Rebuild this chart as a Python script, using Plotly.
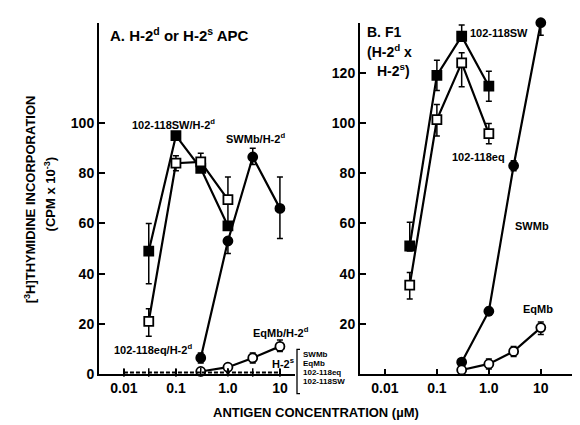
import plotly.graph_objects as go

# Panel A: H-2d or H-2s APC
a_sw_x = [0.03, 0.1, 0.3, 1.0]
a_sw_y = [49, 95, 82, 59]
a_sw_up = [11, 1, 1, 0]
a_sw_dn = [13, 1, 1, 0]

a_eq_x = [0.03, 0.1, 0.3, 1.0]
a_eq_y = [21, 84, 84.5, 69.5]
a_eq_up = [5, 3, 3.5, 9]
a_eq_dn = [6, 3, 3, 9]

a_swmb_x = [0.3, 1.0, 3.0, 10]
a_swmb_y = [6.4, 53, 86.5, 66]
a_swmb_up = [2, 0, 3.5, 12.5]
a_swmb_dn = [2, 5, 3, 12]

a_eqmb_x = [0.3, 1.0, 3.0, 10]
a_eqmb_y = [1, 2.7, 6.4, 11]
a_eqmb_up = [0, 0.5, 2, 2.5]
a_eqmb_dn = [0, 0.5, 2, 2]

a_h2s_x = [0.01, 0.03, 0.1, 0.3, 1.0, 3.0, 10]
a_h2s_y = [0.6, 0.6, 0.6, 0.7, 0.7, 0.6, 0.6]

# Panel B: F1 (H-2d x H-2s)
b_sw_x = [0.03, 0.1, 0.3, 1.0]
b_sw_y = [51, 119, 134.6, 114.7]
b_sw_up = [9.5, 6, 4.5, 6]
b_sw_dn = [2, 6, 2, 6]

b_eq_x = [0.03, 0.1, 0.3, 1.0]
b_eq_y = [35.4, 101.4, 124, 95.8]
b_eq_up = [5, 6, 4, 4]
b_eq_dn = [5.5, 6.5, 9.5, 4]

b_swmb_x = [0.3, 1.0, 3.0, 10]
b_swmb_y = [4.7, 25, 83, 140]
b_swmb_up = [0, 1.5, 2, 0]
b_swmb_dn = [0, 1.5, 2, 5]

b_eqmb_x = [0.3, 1.0, 3.0, 10]
b_eqmb_y = [1.6, 4, 9, 18.5]
b_eqmb_up = [0, 2, 2, 2.2]
b_eqmb_dn = [0, 2, 2, 2.8]

W, H = 580, 425
FONT = "Liberation Sans"


def series(x, y, up, dn, symbol, filled, xa, ya):
    return go.Scatter(
        x=x, y=y, xaxis=xa, yaxis=ya, mode="lines+markers",
        line=dict(color="black", width=2.2),
        marker=dict(symbol=symbol, size=9, color="black" if filled else "white",
                    line=dict(color="black", width=1.8)),
        error_y=dict(type="data", array=up, arrayminus=dn, color="black",
                     thickness=1.5, width=3),
        cliponaxis=False, showlegend=False,
    )


fig = go.Figure()
fig.add_trace(series(a_sw_x, a_sw_y, a_sw_up, a_sw_dn, "square", True, "x", "y"))
fig.add_trace(series(a_eq_x, a_eq_y, a_eq_up, a_eq_dn, "square", False, "x", "y"))
fig.add_trace(series(a_swmb_x, a_swmb_y, a_swmb_up, a_swmb_dn, "circle", True, "x", "y"))
fig.add_trace(series(a_eqmb_x, a_eqmb_y, a_eqmb_up, a_eqmb_dn, "circle", False, "x", "y"))
fig.add_trace(go.Scatter(
    x=a_h2s_x, y=a_h2s_y, xaxis="x", yaxis="y", mode="lines+markers",
    line=dict(color="black", width=2, dash="4px,2px"),
    marker=dict(symbol="line-ns", size=6, line=dict(color="black", width=1.5)),
    cliponaxis=False, showlegend=False,
))
fig.add_trace(series(b_sw_x, b_sw_y, b_sw_up, b_sw_dn, "square", True, "x2", "y2"))
fig.add_trace(series(b_eq_x, b_eq_y, b_eq_up, b_eq_dn, "square", False, "x2", "y2"))
fig.add_trace(series(b_swmb_x, b_swmb_y, b_swmb_up, b_swmb_dn, "circle", True, "x2", "y2"))
fig.add_trace(series(b_eqmb_x, b_eqmb_y, b_eqmb_up, b_eqmb_dn, "circle", False, "x2", "y2"))

xticks = [0.01, 0.1, 1, 10]
xlabels = ["0.01", "0.1", "1.0", "10"]
ydom = [1 - 373 / H, 1 - 15 / H]

xcommon = dict(type="log", tickvals=xticks, ticktext=xlabels, ticks="inside", ticklen=5,
               tickwidth=1.5, tickcolor="black", showline=True, linewidth=2, linecolor="black",
               showgrid=False, zeroline=False, tickfont=dict(size=14, weight="bold"))
ycommon = dict(range=[0, 140], ticks="inside", ticklen=6, tickwidth=1.5, tickcolor="black",
               showline=True, linewidth=2, linecolor="black", showgrid=False, zeroline=False,
               tickfont=dict(size=14, weight="bold"))

fig.update_layout(
    width=W, height=H, margin=dict(l=0, r=0, t=0, b=0),
    paper_bgcolor="white", plot_bgcolor="white",
    font=dict(family=FONT, color="black"),
    xaxis=dict(xcommon, domain=[91 / W, 287 / W], range=[-2.48, 1.29], anchor="y"),
    yaxis=dict(ycommon, domain=ydom, anchor="x", tickvals=[0, 20, 40, 60, 80, 100]),
    xaxis2=dict(xcommon, domain=[352 / W, 578 / W], range=[-2.48, 1.87], anchor="y2"),
    yaxis2=dict(ycommon, domain=ydom, anchor="x2", tickvals=[20, 40, 60, 80, 100, 120]),
)


def note(px, py, text, size=11, xanchor="left", angle=0):
    fig.add_annotation(x=px / W, y=1 - py / H, xref="paper", yref="paper", text=text,
                       showarrow=False, xanchor=xanchor, yanchor="middle", textangle=angle,
                       font=dict(size=size, weight="bold", family=FONT))


note(100, 27, "A. H-2<sup>d</sup> or H-2<sup>s</sup> APC", size=15)
note(122, 118, "102-118SW/H-2<sup>d</sup>", size=11)
note(216, 133, "SWMb/H-2<sup>d</sup>", size=11)
note(104, 348, "102-118eq/H-2<sup>d</sup>", size=11)
note(243, 330, "EqMb/H-2<sup>d</sup>", size=11)
note(262, 362, "H-2<sup>s</sup>", size=11)
for i, t in enumerate(["SWMb", "EqMb", "102-118eq", "102-118SW"]):
    note(293, 353 + i * 9.2, t, size=8)
fig.add_shape(type="path", xref="paper", yref="paper",
              path=f"M {292/W},{1-348/H} L {289/W},{1-348/H} L {289/W},{1-393/H} L {292/W},{1-393/H}",
              line=dict(color="black", width=1.3))

note(357, 24, "B. F1", size=14)
note(357, 44, "(H-2<sup>d</sup> x", size=14)
note(367, 63, "H-2<sup>s</sup>)", size=14)
note(460, 25, "102-118SW", size=11)
note(442, 152, "102-118eq", size=11)
note(505, 222, "SWMb", size=11)
note(513, 307, "EqMb", size=11)

note(22, 195, "[<sup>3</sup>H]THYMIDINE INCORPORATION", size=13, xanchor="center", angle=-90)
note(42, 190, "(CPM x 10<sup>-3</sup>)", size=13, xanchor="center", angle=-90)
note(308, 412, "ANTIGEN CONCENTRATION (\u00b5M)", size=13, xanchor="center")

fig.write_html("out.html")
